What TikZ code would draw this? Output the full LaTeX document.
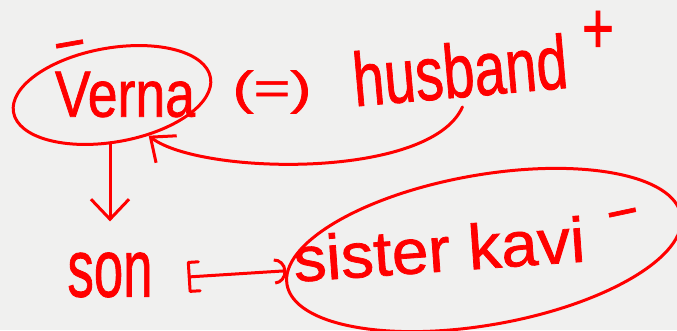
\documentclass[tikz,border=0pt]{standalone}
\usepackage{fontspec}
\setmainfont{Liberation Sans}[FakeBold=1.2]
\usetikzlibrary{arrows.meta,shapes.geometric}
\definecolor{ink}{RGB}{255,0,0}
\definecolor{bg}{RGB}{240,240,239}
\begin{document}
\begin{tikzpicture}[x=1pt,y=1pt,
  txt/.style={inner sep=0pt, text=ink},
  ring/.style={draw=ink, line width=3pt, ellipse, inner sep=0pt},
  link/.style={draw=ink, line width=3pt, line cap=round, line join=round}]
\fill[bg] (0,0) rectangle (677,330);
\useasboundingbox (0,0) rectangle (677,330);
% texts
\node[txt] (verna) at (125,235.5) {\resizebox{140pt}{45pt}{Verna}};
\node[txt, rotate=10] (vmin) at (71,278) {\fontsize{55pt}{55pt}\selectfont −};
\node[txt] (eq) at (272,238) {\resizebox*{79pt}{43pt}{(=)}};
\node[txt, rotate=5] (hus) at (460,260) {\resizebox{215pt}{55pt}{husband}};
\node[txt] (plus) at (598,298) {\resizebox{32pt}{42pt}{+}};
\node[txt] (son) at (110,55) {\resizebox{85pt}{44pt}{son}};
\node[txt, rotate=4] (kavi) at (439,81) {\resizebox{292pt}{46pt}{sister kavi}};
\node[txt, rotate=12] (kmin) at (624,109.5) {\fontsize{55pt}{55pt}\selectfont −};
% rings
\node[ring, minimum width=200pt, minimum height=94pt, rotate=10] (vern) at (112,235) {};
\node[ring, minimum width=400pt, minimum height=150pt, rotate=10] (sis) at (484,80) {};
% connectors
\draw[link, -{Straight Barb[length=20pt,width=38pt]}, shorten >=31pt]
  (vern.south -| son.north) -- (son.north);
\draw[link, -{Straight Barb[length=20pt,width=34pt]}]
  ([yshift=-9pt]hus.south) .. controls (430,150) and (200,155) .. (vern.-58);
\draw[link, {Bracket[width=32pt,length=10pt,round]}-{Arc Barb[length=12pt,width=26pt]}]
  ([xshift=35pt,yshift=-2pt]son.east) -- (sis.176);
\end{tikzpicture}
\end{document}
